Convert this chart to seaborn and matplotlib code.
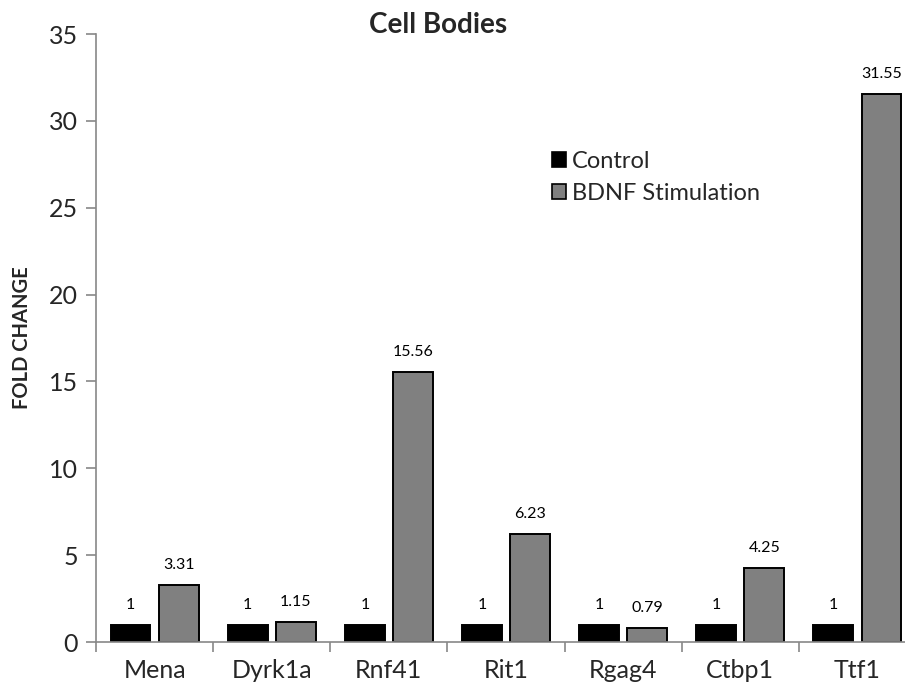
import numpy as np
import pandas as pd
import matplotlib
matplotlib.use("Agg")
import matplotlib.pyplot as plt
from matplotlib.patches import Patch
import seaborn as sns

genes = ["Mena", "Dyrk1a", "Rnf41", "Rit1", "Rgag4", "Ctbp1", "Ttf1"]
control = [1, 1, 1, 1, 1, 1, 1]
bdnf = [3.31, 1.15, 15.56, 6.23, 0.79, 4.25, 31.55]
conditions = ["Control", "BDNF Stimulation"]
colors = ["#000000", "#808080"]
y_ticks = [0, 5, 10, 15, 20, 25, 30, 35]

df = pd.DataFrame({
    "gene": genes * 2,
    "fold": control + bdnf,
    "condition": [conditions[0]] * len(genes) + [conditions[1]] * len(genes),
})

sns.set_theme(style="white")
plt.rcParams["font.family"] = ["Lato", "DejaVu Sans"]

fig = plt.figure(figsize=(9.05, 6.91), dpi=100)
ax = fig.add_axes([96 / 905, 1 - 642 / 691, (916 - 96) / 905, (642 - 34) / 691])

sns.barplot(data=df, x="gene", y="fold", hue="condition", order=genes,
            hue_order=conditions, palette=colors, width=0.82, gap=0.17,
            edgecolor="black", linewidth=1.4, legend=False, ax=ax,
            errorbar=None)

# value labels above each bar
for cont in ax.containers:
    for bar in cont:
        h = bar.get_height()
        ax.annotate(f"{h:g}", (bar.get_x() + bar.get_width() / 2, h),
                    xytext=(0, 20), textcoords="offset pixels",
                    ha="center", va="center", fontsize=11.5, color="black")

ax.set_xlim(-0.5, len(genes) - 0.5)
ax.set_ylim(0, 35)
ax.set_yticks(y_ticks)
ax.tick_params(axis="y", which="major", length=7, width=1.2, color="#888888",
               labelsize=18, pad=6, left=True, direction="out")
ax.set_xticks(range(len(genes)))
ax.set_xticklabels(genes)
ax.set_xticks(np.arange(-0.5, len(genes), 1.0), minor=True)
ax.tick_params(axis="x", which="major", length=0, labelsize=18, pad=12)
ax.tick_params(axis="x", which="minor", length=7, width=1.2, color="#888888",
               bottom=True, direction="out")

for side in ["top", "right"]:
    ax.spines[side].set_visible(False)
for side in ["left", "bottom"]:
    ax.spines[side].set_color("#888888")
    ax.spines[side].set_linewidth(1.2)

ax.set_xlabel("")
ax.set_ylabel("FOLD CHANGE", fontsize=14.5, fontweight="bold", labelpad=12)

fig.text(438 / 905, 1 - 25 / 691, "Cell Bodies", ha="center", va="center",
         fontsize=20, fontweight="bold")

handles = [Patch(facecolor=c, edgecolor="black", linewidth=1.2) for c in colors]
ax.legend(handles, conditions, loc="upper left", bbox_to_anchor=(0.53, 0.842),
          frameon=False, fontsize=17, handlelength=0.6, handleheight=0.6,
          handletextpad=0.25, labelspacing=0.45)

fig.savefig("out.png", dpi=100)
